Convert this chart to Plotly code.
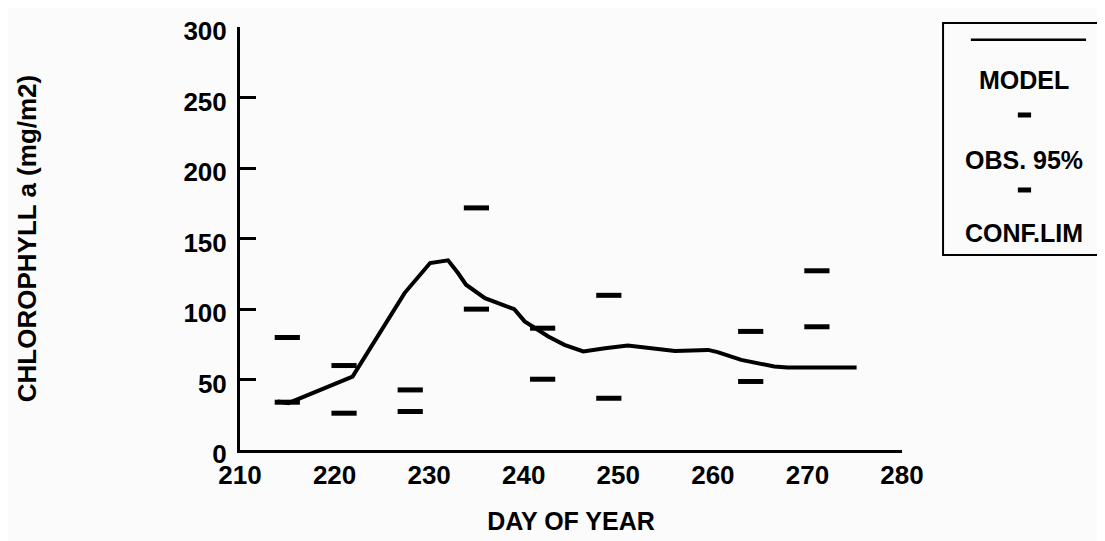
import plotly.graph_objects as go

# ---- data ----
model_day = [214.0, 215.1, 221.9, 227.4, 230.1, 232.0, 233.05, 233.9, 235.9, 239.0, 240.1,
             242.6, 244.3, 246.3, 248.6, 251.0, 256.0, 259.5, 260.5, 263.0, 266.5, 267.9, 275.2]
model_chl = [34.4, 33.2, 52.1, 111.3, 132.6, 134.5, 125.5, 117.2, 107.7, 99.9, 91.2,
             80.5, 74.6, 69.9, 72.2, 74.1, 70.3, 71.0, 69.4, 63.9, 59.2, 58.5, 58.5]

obs_day = [215, 221, 228, 235, 242, 249, 264, 271]
obs_upper = [79.8, 59.9, 42.6, 171.7, 86.4, 109.7, 84.1, 127.1]
obs_lower = [33.9, 26.1, 27.3, 99.9, 50.2, 36.7, 48.6, 87.4]

x_ticks = [210, 220, 230, 240, 250, 260, 270, 280]
y_ticks = [0, 50, 100, 150, 200, 250, 300]

FONT = "Liberation Sans, Arial, sans-serif"
BG = "#fbfbfb"

fig = go.Figure()
fig.add_trace(go.Scatter(x=model_day, y=model_chl, mode="lines",
                         line=dict(color="black", width=4), name="MODEL",
                         showlegend=False))
for vals in (obs_upper, obs_lower):
    fig.add_trace(go.Scatter(x=obs_day, y=vals, mode="markers",
                             marker=dict(symbol="line-ew", size=18,
                                         line=dict(color="black", width=5)),
                             showlegend=False, name="OBS. 95% CONF.LIM"))

# ---- legend box drawn by hand ----
shapes = [
    dict(type="rect", xref="paper", yref="paper", x0=1.062, x1=1.3066, y0=0.461, y1=1.0095,
         line=dict(color="black", width=2)),
    dict(type="line", xref="paper", yref="paper", x0=1.104, x1=1.278, y0=0.970, y1=0.970,
         line=dict(color="black", width=2.5)),
    dict(type="line", xref="paper", yref="paper", x0=1.175, x1=1.195, y0=0.792, y1=0.792,
         line=dict(color="black", width=5)),
    dict(type="line", xref="paper", yref="paper", x0=1.175, x1=1.195, y0=0.6147, y1=0.6147,
         line=dict(color="black", width=5)),
]
annotations = []
for txt, yp in (("MODEL", 0.8747), ("OBS. 95%", 0.6856), ("CONF.LIM", 0.513)):
    annotations.append(dict(text=txt, xref="paper", yref="paper", x=1.1843, y=yp,
                            showarrow=False, xanchor="center", yanchor="middle",
                            font=dict(family=FONT, size=25, color="black", weight="bold")))

fig.update_layout(
    width=1105, height=541,
    margin=dict(l=232, r=211, t=19, b=99),
    paper_bgcolor=BG, plot_bgcolor=BG,
    font=dict(family=FONT, color="black"),
    shapes=shapes, annotations=annotations,
    showlegend=False,
)
fig.update_xaxes(range=[210, 280], tickvals=x_ticks, ticktext=[str(v) for v in x_ticks],
                 showline=True, linecolor="black", linewidth=3, ticks="",
                 showgrid=False, zeroline=False,
                 tickfont=dict(family=FONT, size=26, color="black", weight="bold"),
                 title=dict(text="DAY OF YEAR", standoff=24,
                            font=dict(family=FONT, size=25, color="black", weight="bold")),
                 automargin=False)
fig.update_yaxes(range=[0, 300], tickvals=y_ticks, ticktext=[str(v) for v in y_ticks],
                 showline=True, linecolor="black", linewidth=3,
                 ticks="inside", ticklen=16, tickwidth=3, tickcolor="black",
                 ticklabelstandoff=5, ticklabelshift=4,
                 showgrid=False, zeroline=False,
                 tickfont=dict(family=FONT, size=26, color="black", weight="bold"),
                 title=dict(text="CHLOROPHYLL a (mg/m2)", standoff=140,
                            font=dict(family=FONT, size=26, color="black", weight="bold")),
                 automargin=False)

fig.write_html("out.html")
